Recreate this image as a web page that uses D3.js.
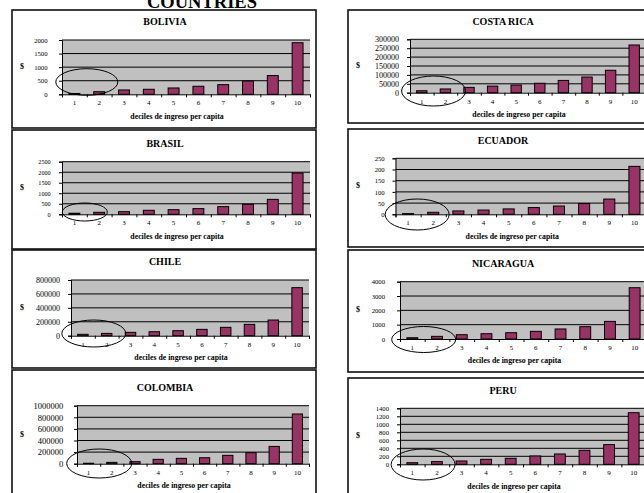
<!DOCTYPE html>
<html>
<head>
<meta charset="utf-8">
<script src="https://cdn.jsdelivr.net/npm/d3@7"></script>
<style>
  html, body { margin: 0; padding: 0; background: #fff; }
  svg { display: block; }
  text { font-family: "Liberation Serif", "Times New Roman", serif; fill: #000; }
</style>
</head>
<body>
<svg id="chart" width="644" height="493"></svg>
<script>
// Income per decile, one small panel per country
const deciles = ["1", "2", "3", "4", "5", "6", "7", "8", "9", "10"];
const countries = ["BOLIVIA", "COSTA RICA", "BRASIL", "ECUADOR", "CHILE", "NICARAGUA", "COLOMBIA", "PERU"];

const bolivia   = [30, 96, 160, 185, 233, 296, 356, 490, 690, 1900];
const costaRica = [11000, 21000, 30000, 37000, 43000, 53000, 69000, 88000, 126000, 268000];
const brasil    = [50, 95, 125, 190, 220, 270, 365, 475, 710, 1960];
const ecuador   = [3, 9, 15, 19, 24, 30, 37, 48, 68, 214];
const chile     = [20000, 33000, 48000, 57000, 72000, 91000, 120000, 163000, 225000, 690000];
const nicaragua = [90, 185, 300, 370, 440, 535, 700, 860, 1230, 3580];
const colombia  = [8000, 23000, 35000, 75000, 92000, 103000, 144000, 190000, 298000, 857000];
const peru      = [40, 67, 83, 125, 150, 208, 258, 350, 492, 1290];

const boliviaTicks   = [0, 500, 1000, 1500, 2000];
const costaRicaTicks = [0, 50000, 100000, 150000, 200000, 250000, 300000];
const brasilTicks    = [0, 500, 1000, 1500, 2000, 2500];
const ecuadorTicks   = [0, 50, 100, 150, 200, 250];
const chileTicks     = [0, 200000, 400000, 600000, 800000];
const nicaraguaTicks = [0, 1000, 2000, 3000, 4000];
const colombiaTicks  = [0, 200000, 400000, 600000, 800000, 1000000];
const peruTicks      = [0, 200, 400, 600, 800, 1000, 1200, 1400];

const pageTitle = "COUNTRIES";
const yTitle = "$";
const xTitle = "deciles de ingreso per capita";

const seriesList = [bolivia, costaRica, brasil, ecuador, chile, nicaragua, colombia, peru];
const tickList = [boliviaTicks, costaRicaTicks, brasilTicks, ecuadorTicks, chileTicks, nicaraguaTicks, colombiaTicks, peruTicks];

// Panel geometry: frame box, plot rectangle [left, top, right, zero-line],
// label size, label gap from the axis, ring around deciles 1-2
const panels = [
  { box: [12, 10, 316, 128],   plot: [62, 40, 310, 94.3],       tf: 6.7, gap: 14.5, ell: { dx: 0,    dy: -12.3, rx: 31,   ry: 13.3 } },
  { box: [348, 10, 690, 123],  plot: [410, 39.3, 646, 92.7],    tf: 8,   gap: 11,   ell: { dx: 0,    dy: -1.7,  rx: 32,   ry: 15 } },
  { box: [12, 130, 316, 249],  plot: [62, 161.7, 310, 214.3],   tf: 6.2, gap: 11.3, ell: { dx: -2,   dy: -2.3,  rx: 22.5, ry: 9 } },
  { box: [348, 129, 690, 247], plot: [395.5, 158.3, 647, 214.3],tf: 6.7, gap: 10.8, ell: { dx: -3.5, dy: 0.2,   rx: 32,   ry: 15.5 } },
  { box: [12, 250, 316, 368],  plot: [71, 280, 309, 335.7],     tf: 8,   gap: 11,   ell: { dx: -1,   dy: -2.2,  rx: 32,   ry: 13.5 } },
  { box: [348, 250, 690, 372], plot: [400, 281.7, 647, 339],    tf: 6.7, gap: 15,   ell: { dx: -1,   dy: 0.5,   rx: 32,   ry: 13 } },
  { box: [12, 370, 316, 520],  plot: [77, 405.7, 309, 463.7],   tf: 8.5, gap: 13.7, ell: { dx: -1,   dy: -0.2,  rx: 32.5, ry: 14.5 } },
  { box: [348, 378, 690, 520], plot: [400, 408.3, 646, 464.3],  tf: 6.7, gap: 11,   ell: { dx: -1.5, dy: 0.2,   rx: 32,   ry: 15.5 } }
];

const svg = d3.select("#chart");

// Page heading, partly above the sheet edge
svg.append("text")
  .attr("x", 202).attr("y", 8.3)
  .attr("text-anchor", "middle")
  .attr("font-size", 18.5).attr("font-weight", "bold")
  .text(pageTitle);

panels.forEach((p, i) => {
  const values = seriesList[i];
  const ticks = tickList[i];
  const [L, T, R, Z] = p.plot;
  const g = svg.append("g");

  // frame
  g.append("rect")
    .attr("x", p.box[0]).attr("y", p.box[1])
    .attr("width", p.box[2] - p.box[0]).attr("height", p.box[3] - p.box[1])
    .attr("fill", "#fff").attr("stroke", "#111").attr("stroke-width", 1.6);

  const x = d3.scaleBand().domain(deciles).range([L, R]).paddingInner(0.56).paddingOuter(0.28);
  const xb = d3.scaleLinear().domain([0, deciles.length]).range([L, R]);
  const y = d3.scaleLinear().domain([0, d3.max(ticks)]).range([Z, T]);

  // plot area
  g.append("rect")
    .attr("x", L).attr("y", y(d3.max(ticks)))
    .attr("width", R - L).attr("height", Z - y(d3.max(ticks)))
    .attr("fill", "#c0c0c0");

  // gridlines
  g.selectAll("line.grid").data(ticks.filter(t => t > 0)).join("line")
    .attr("class", "grid")
    .attr("x1", L).attr("x2", R)
    .attr("y1", d => y(d)).attr("y2", d => y(d))
    .attr("stroke", "#000").attr("stroke-width", 1);

  // bars
  g.selectAll("rect.bar").data(values).join("rect")
    .attr("class", "bar")
    .attr("x", (d, j) => x(deciles[j]))
    .attr("y", d => y(d))
    .attr("width", x.bandwidth())
    .attr("height", d => Z - y(d))
    .attr("fill", "#993366").attr("stroke", "#000").attr("stroke-width", 1);

  // y axis
  const ya = g.append("g").attr("transform", `translate(${L},0)`)
    .call(d3.axisLeft(y).tickValues(ticks).tickFormat(d3.format("d")).tickSize(3).tickPadding(p.gap - 3));
  ya.select(".domain").attr("stroke", "#000");
  ya.selectAll("line").attr("stroke", "#000");
  ya.selectAll("text").attr("font-size", p.tf).attr("font-family", "Liberation Serif").attr("fill", "#000");

  // x axis: tick marks on category boundaries, labels under each bar
  const xa = g.append("g").attr("transform", `translate(0,${Z})`)
    .call(d3.axisBottom(xb).tickValues(d3.range(0, deciles.length + 1)).tickFormat("").tickSize(3));
  xa.select(".domain").attr("stroke", "#000");
  xa.selectAll("line").attr("stroke", "#000");

  const xl = g.append("g").attr("transform", `translate(0,${Z})`)
    .call(d3.axisBottom(x).tickSize(0).tickPadding(6));
  xl.select(".domain").remove();
  xl.selectAll("text").attr("font-size", 7).attr("font-family", "Liberation Serif").attr("fill", "#000");

  // titles
  const midBox = (p.box[0] < 300) ? 165 : 503;
  g.append("text")
    .attr("x", midBox).attr("y", T - 17)
    .attr("text-anchor", "middle").attr("dominant-baseline", "middle")
    .attr("font-size", 10).attr("font-weight", "bold")
    .text(countries[i]);

  g.append("text")
    .attr("x", p.box[0] + 10).attr("y", (T + Z) / 2)
    .attr("text-anchor", "middle").attr("dominant-baseline", "middle")
    .attr("font-size", 8).attr("font-weight", "bold")
    .text(yTitle);

  g.append("text")
    .attr("x", (L + R) / 2 - 9).attr("y", Z + 22.6)
    .attr("text-anchor", "middle").attr("dominant-baseline", "middle")
    .attr("font-size", 7.8).attr("font-weight", "bold")
    .text(xTitle);

  // ring around the two poorest deciles
  const cx = (x(deciles[0]) + x(deciles[1])) / 2 + x.bandwidth() / 2 + p.ell.dx;
  g.append("ellipse")
    .attr("cx", cx).attr("cy", Z + p.ell.dy)
    .attr("rx", p.ell.rx).attr("ry", p.ell.ry)
    .attr("fill", "none").attr("stroke", "#000").attr("stroke-width", 1);
});
</script>
</body>
</html>
